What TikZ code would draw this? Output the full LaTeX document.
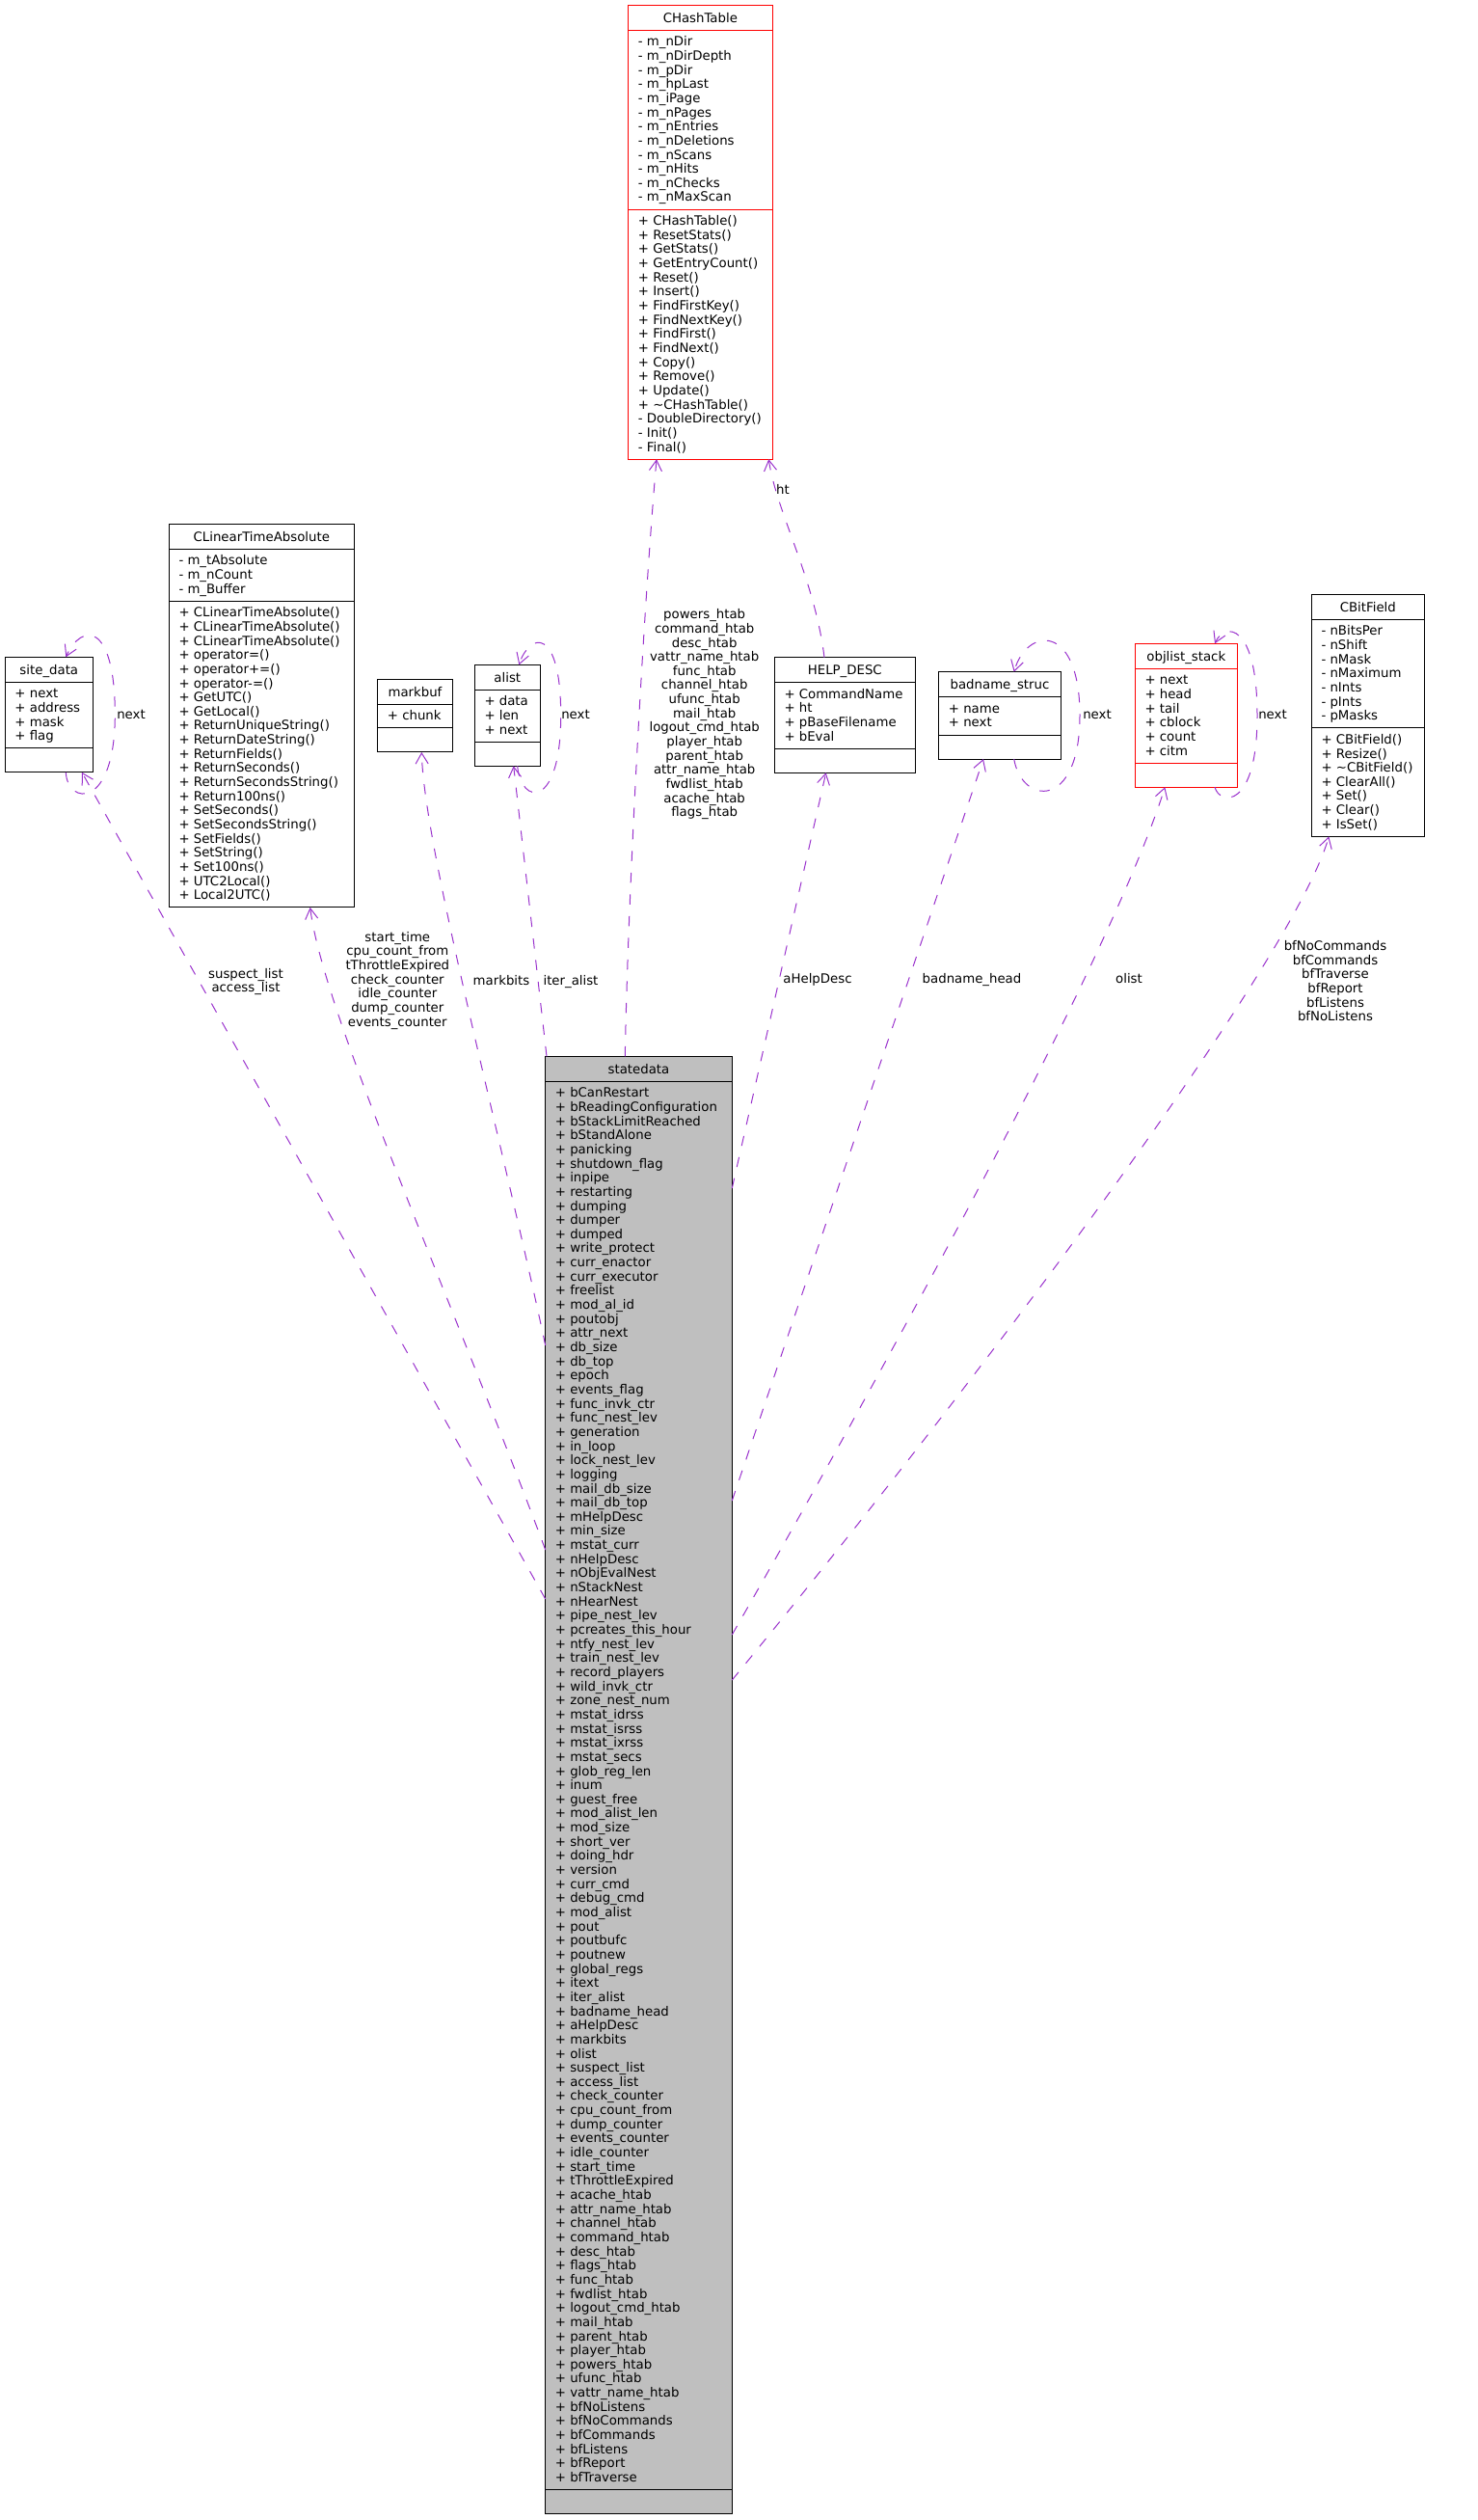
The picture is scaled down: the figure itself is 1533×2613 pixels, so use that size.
\documentclass[tikz,border=0pt]{standalone}
\usepackage{fontspec}
\setmainfont{DejaVu Sans}
\usetikzlibrary{arrows.meta}
\definecolor{relc}{HTML}{9A32CD}
\definecolor{sdfill}{HTML}{BFBFBF}
\newcommand\fs{\fontsize{13.3}{14.65}\selectfont}
\tikzset{
  cls/.style={draw, line width=1pt, inner sep=0pt, outer sep=0pt, anchor=north west},
  sepline/.style={line width=1pt},
  hdr/.style={font=\fs, inner sep=0pt, anchor=base},
  txt/.style={font=\fs, inner sep=0pt, anchor=base west},
  lbl/.style={font=\fs, inner sep=0pt, align=center},
  lbb/.style={font=\fs, inner sep=0pt, anchor=base},
  rel/.style={draw=relc, line width=1pt, dash pattern=on 10.5pt off 12pt,
    -{Straight Barb[length=11pt,width=13pt]}},
}
% #1 name, #2 style, #3 L, #4 T, #5 W, #6 n attrs, #7 n methods, #8 title, #9 attrs
\newcommand\umlbox[9]{%
  \pgfmathsetmacro\hA{#6*14.65+10}%
  \pgfmathsetmacro\hB{#7==0 ? 25 : #7*14.65+10}%
  \pgfmathsetmacro\hT{26+\hA+\hB}%
  \node[cls,#2,minimum width=#5pt,minimum height=\hT pt] (#1) at (#3,#4) {};
  \draw[sepline,#2] ({#3},{#4+26}) -- ({#3+#5},{#4+26});
  \draw[sepline,#2] ({#3},{#4+26+\hA}) -- ({#3+#5},{#4+26+\hA});
  \node[hdr] (#1-title) at ({#3+#5/2},{#4+17.8}) {#8};
  \foreach \t [count=\i] in {#9} {\node[txt] (#1-a\i) at ({#3+10},{#4+42.5+(\i-1)*14.65}) {\t};}
  \pgfmathsetmacro\mY{#4+26+\hA+16.5}%
}
% #1 name, #2 L, #3 methods
\newcommand\umlmeths[3]{%
  \foreach \t [count=\i] in {#3} {\node[txt] (#1-m\i) at ({#2+10},{\mY+(\i-1)*14.65}) {\t};}
}
\begin{document}
\begin{tikzpicture}[x=1pt,y=-1pt]
\useasboundingbox (0,0) rectangle (1533,2613);

% CHashTable
\umlbox{cht}{draw=red}{651.7}{5.3}{149.3}{12}{17}{CHashTable}
{- m\_nDir, - m\_nDirDepth, - m\_pDir, - m\_hpLast, - m\_iPage, - m\_nPages, - m\_nEntries, - m\_nDeletions, - m\_nScans, - m\_nHits, - m\_nChecks, - m\_nMaxScan}
\umlmeths{cht}{651.7}{+ CHashTable(), + ResetStats(), + GetStats(), + GetEntryCount(), + Reset(), + Insert(), + FindFirstKey(), + FindNextKey(), + FindFirst(), + FindNext(), + Copy(), + Remove(), + Update(), + \textasciitilde CHashTable(), - DoubleDirectory(), - Init(), - Final()}

% site_data
\umlbox{site}{draw=black}{5.3}{681.3}{91}{4}{0}{site\_data}
{+ next, + address, + mask, + flag}

% CLinearTimeAbsolute
\umlbox{clt}{draw=black}{175.3}{543.3}{192}{3}{21}{CLinearTimeAbsolute}
{- m\_tAbsolute, - m\_nCount, - m\_Buffer}
\umlmeths{clt}{175.3}{+ CLinearTimeAbsolute(), + CLinearTimeAbsolute(), + CLinearTimeAbsolute(), + operator=(), + operator+=(), + operator-=(), + GetUTC(), + GetLocal(), + ReturnUniqueString(), + ReturnDateString(), + ReturnFields(), + ReturnSeconds(), + ReturnSecondsString(), + Return100ns(), + SetSeconds(), + SetSecondsString(), + SetFields(), + SetString(), + Set100ns(), + UTC2Local(), + Local2UTC()}

% markbuf
\umlbox{mbuf}{draw=black}{391.7}{704.3}{77.6}{1}{0}{markbuf}{+ chunk}

% alist
\umlbox{alist}{draw=black}{492.3}{689.3}{68}{3}{0}{alist}{+ data, + len, + next}

% HELP_DESC
\umlbox{help}{draw=black}{803.3}{681.7}{146}{4}{0}{HELP\_DESC}
{+ CommandName, + ht, + pBaseFilename, + bEval}

% badname_struc
\umlbox{bad}{draw=black}{973.7}{696.7}{126.6}{2}{0}{badname\_struc}{+ name, + next}

% objlist_stack
\umlbox{objl}{draw=red}{1177.3}{667.3}{106}{6}{0}{objlist\_stack}
{+ next, + head, + tail, + cblock, + count, + citm}

% CBitField
\umlbox{cbf}{draw=black}{1360.3}{616.3}{117}{7}{7}{CBitField}
{- nBitsPer, - nShift, - nMask, - nMaximum, - nInts, - pInts, - pMasks}
\umlmeths{cbf}{1360.3}{+ CBitField(), + Resize(), + \textasciitilde CBitField(), + ClearAll(), + Set(), + Clear(), + IsSet()}

% statedata
\umlbox{sd}{draw=black,fill=sdfill}{565.7}{1095.3}{193.6}{99}{0}{statedata}
{+ bCanRestart, + bReadingConfiguration, + bStackLimitReached, + bStandAlone, + panicking, + shutdown\_flag, + inpipe, + restarting, + dumping, + dumper, + dumped, + write\_protect, + curr\_enactor, + curr\_executor, + freelist, + mod\_al\_id, + poutobj, + attr\_next, + db\_size, + db\_top, + epoch, + events\_flag, + func\_invk\_ctr, + func\_nest\_lev, + generation, + in\_loop, + lock\_nest\_lev, + logging, + mail\_db\_size, + mail\_db\_top, + mHelpDesc, + min\_size, + mstat\_curr, + nHelpDesc, + nObjEvalNest, + nStackNest, + nHearNest, + pipe\_nest\_lev, + pcreates\_this\_hour, + ntfy\_nest\_lev, + train\_nest\_lev, + record\_players, + wild\_invk\_ctr, + zone\_nest\_num, + mstat\_idrss, + mstat\_isrss, + mstat\_ixrss, + mstat\_secs, + glob\_reg\_len, + inum, + guest\_free, + mod\_alist\_len, + mod\_size, + short\_ver, + doing\_hdr, + version, + curr\_cmd, + debug\_cmd, + mod\_alist, + pout, + poutbufc, + poutnew, + global\_regs, + itext, + iter\_alist, + badname\_head, + aHelpDesc, + markbits, + olist, + suspect\_list, + access\_list, + check\_counter, + cpu\_count\_from, + dump\_counter, + events\_counter, + idle\_counter, + start\_time, + tThrottleExpired, + acache\_htab, + attr\_name\_htab, + channel\_htab, + command\_htab, + desc\_htab, + flags\_htab, + func\_htab, + fwdlist\_htab, + logout\_cmd\_htab, + mail\_htab, + parent\_htab, + player\_htab, + powers\_htab, + ufunc\_htab, + vattr\_name\_htab, + bfNoListens, + bfNoCommands, + bfCommands, + bfListens, + bfReport, + bfTraverse}

% ---- relations ----
\draw[rel] (sd.west |- 0,1658) -- (site.south -| 85,0);
\draw[rel] (sd.west |- 0,1607) .. controls (470,1350) and (335,1050) .. (clt.south -| 321.7,0);
\draw[rel] (sd.west |- 0,1395) .. controls (520,1180) and (440,880) .. (mbuf.south -| 437.3,0);
\draw[rel] (sd.north -| 567,0) -- (alist.south -| 532.7,0);
\draw[rel] (sd.north -| 648.3,0) .. controls (652,900) and (670,600) .. (cht.south -| 681,0);
\draw[rel] (help.north -| 855,0) .. controls (845,600) and (805,530) .. (cht.south -| 797.3,0);
\draw[rel] (sd.east |- 0,1232) -- (help.south -| 856.7,0);
\draw[rel] (sd.east |- 0,1556) -- (bad.south -| 1020,0);
\draw[rel] (sd.east |- 0,1695) .. controls (900,1450) and (1150,1000) .. (objl.south -| 1208.3,0);
\draw[rel] (sd.east |- 0,1742) .. controls (1000,1450) and (1340,1000) .. (cbf.south -| 1378.3,0);

% self loops
\draw[rel] (site.south -| 68.3,0) .. controls (70,835) and (119.3,840) .. (119.3,741) .. controls (119.3,645) and (85,645) .. (site.north -| 68.3,0);
\draw[rel] (alist.south -| 536.7,0) .. controls (540,835) and (581.7,840) .. (581.7,742) .. controls (581.7,650) and (550,655) .. (alist.north -| 538.3,0);
\draw[rel] (bad.south -| 1051.7,0) .. controls (1060,835) and (1120,840) .. (1120,742) .. controls (1120,645) and (1065,650) .. (bad.north -| 1051.7,0);
\draw[rel] (objl.south -| 1260,0) .. controls (1265,835) and (1304,840) .. (1304,742) .. controls (1304,645) and (1270,645) .. (objl.north -| 1260,0);

% ---- labels ----
\node[lbl] (l-site) at (255,1018) {suspect\_list\\access\_list};
\node[lbl] (l-clt) at (412.3,1016.7) {start\_time\\cpu\_count\_from\\tThrottleExpired\\check\_counter\\idle\_counter\\dump\_counter\\events\_counter};
\node[lbb] (l-mbuf) at (520,1021.5) {markbits};
\node[lbb] (l-alist) at (592,1021.5) {iter\_alist};
\node[lbl] (l-cht) at (730.7,740.8) {powers\_htab\\command\_htab\\desc\_htab\\vattr\_name\_htab\\func\_htab\\channel\_htab\\ufunc\_htab\\mail\_htab\\logout\_cmd\_htab\\player\_htab\\parent\_htab\\attr\_name\_htab\\fwdlist\_htab\\acache\_htab\\flags\_htab};
\node[lbb] (l-ht) at (812,512.5) {ht};
\node[lbb] (l-help) at (848,1019.5) {aHelpDesc};
\node[lbb] (l-bad) at (1008,1019.5) {badname\_head};
\node[lbb] (l-objl) at (1171,1019.5) {olist};
\node[lbl] (l-cbf) at (1385,1017.2) {bfNoCommands\\bfCommands\\bfTraverse\\bfReport\\bfListens\\bfNoListens};
\node[lbb] (l-sn) at (136,745.2) {next};
\node[lbb] (l-an) at (597,745.2) {next};
\node[lbb] (l-bn) at (1138,745.2) {next};
\node[lbb] (l-on) at (1320,745.2) {next};
\end{tikzpicture}
\end{document}
